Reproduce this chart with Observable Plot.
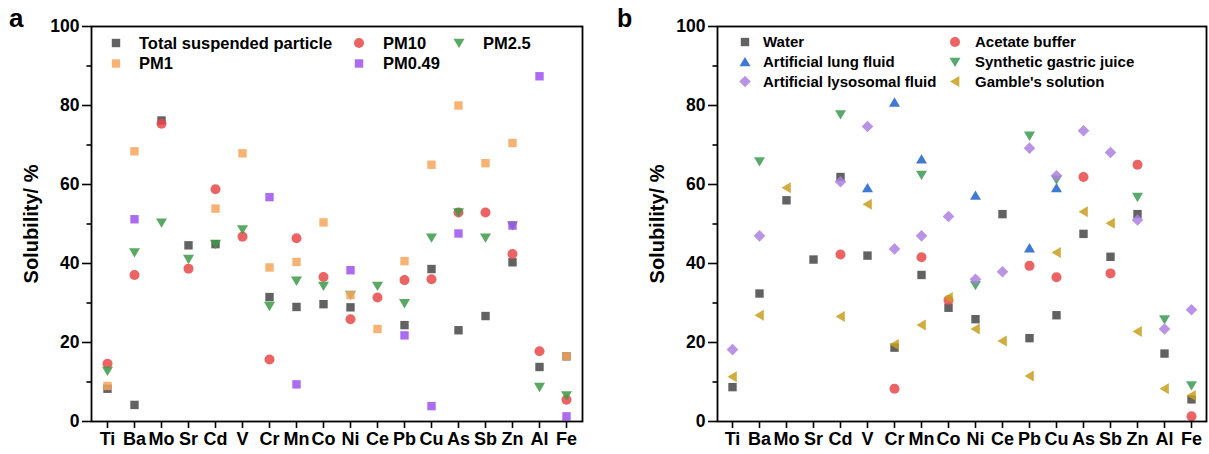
<!DOCTYPE html>
<html><head><meta charset="utf-8">
<script src="https://cdn.jsdelivr.net/npm/d3@7"></script>
<script src="https://cdn.jsdelivr.net/npm/@observablehq/plot@0.6"></script>
<style>
body{margin:0;background:#fff;}
#wrap{position:relative;width:1209px;height:454px;overflow:hidden;font-family:"Liberation Sans",Arial,sans-serif;}
#wrap svg{position:absolute;top:0;}
#wrap svg text{font-weight:bold;}
</style></head><body><div id="wrap"></div>
<script>
const elements = ["Ti","Ba","Mo","Sr","Cd","V","Cr","Mn","Co","Ni","Ce","Pb","Cu","As","Sb","Zn","Al","Fe"];
const yTicks = [0,20,40,60,80,100];
const yMinor = [10,30,50,70,90];

// Panel a
const tsp   = [8.3, 4.2, 76.2, 44.6, 44.9, null, 31.5, 29.0, 29.7, 28.9, null, 24.4, 38.6, 23.1, 26.7, 40.3, 13.8, 16.5];
const pm10  = [14.6, 37.1, 75.4, 38.7, 58.8, 46.8, 15.7, 46.4, 36.6, 25.9, 31.4, 35.8, 36.0, 52.9, 52.9, 42.4, 17.8, 5.5];
const pm25  = [12.8, 42.8, 50.3, 41.1, 44.9, 48.6, 29.2, 35.6, 34.3, 32.0, 34.3, 29.9, 46.5, 52.9, 46.5, 49.6, 8.7, 6.6];
const pm1   = [9.0, 68.4, null, null, 53.9, 67.9, 39.0, 40.4, 50.4, 32.0, 23.4, 40.6, 65.0, 80.0, 65.4, 70.5, null, 16.5];
const pm049 = [null, 51.2, null, null, null, null, 56.8, 9.4, null, 38.3, null, 21.8, 3.9, 47.6, null, 49.6, 87.4, 1.3];

// Panel b
const water     = [8.7, 32.4, 56.0, 41.0, 61.9, 42.0, 18.7, 37.1, 28.8, 25.9, 52.5, 21.1, 26.9, 47.5, 41.7, 52.5, 17.2, 5.6];
const acetate   = [null, null, null, null, 42.3, null, 8.3, 41.6, 30.7, null, null, 39.4, 36.5, 61.9, 37.5, 65.0, null, 1.3];
const lung      = [null, null, null, null, null, 59.1, 80.8, 66.4, null, 57.2, null, 43.9, 59.1, null, null, null, null, null];
const gastric   = [null, 65.8, null, null, 77.7, null, null, 62.4, null, 34.5, null, 72.3, 61.2, null, null, 56.8, 25.8, 9.1];
const lysosomal = [18.2, 47.0, null, null, 60.7, 74.7, 43.7, 47.0, 51.9, 36.0, 37.9, 69.2, 62.2, 73.6, 68.1, 51.0, 23.4, 28.3];
const gamble    = [11.3, 26.9, 59.2, null, 26.6, 55.0, 19.5, 24.4, 31.4, 23.4, 20.4, 11.5, 42.8, 53.1, 50.2, 22.8, 8.3, 6.6];

const sym = {
  square:  {draw(c){ c.rect(-4.2,-4.2,8.4,8.4); }},
  circle:  {draw(c){ c.moveTo(5,0); c.arc(0,0,5,0,2*Math.PI); }},
  triDown: {draw(c){ c.moveTo(-5.5,-4.3); c.lineTo(5.5,-4.3); c.lineTo(0,5); c.closePath(); }},
  triUp:   {draw(c){ c.moveTo(-5.5,4.3); c.lineTo(5.5,4.3); c.lineTo(0,-5); c.closePath(); }},
  triLeft: {draw(c){ c.moveTo(4.3,-5.5); c.lineTo(4.3,5.5); c.lineTo(-5,0); c.closePath(); }},
  diamond: {draw(c){ c.moveTo(0,-5.8); c.lineTo(5.8,0); c.lineTo(0,5.8); c.lineTo(-5.8,0); c.closePath(); }}
};

const seriesA = [
  {name:"Total suspended particle", values:tsp, symbol:sym.square, color:"#474747"},
  {name:"PM10", values:pm10, symbol:sym.circle, color:"#e84848"},
  {name:"PM2.5", values:pm25, symbol:sym.triDown, color:"#3c9a46"},
  {name:"PM1", values:pm1, symbol:sym.square, color:"#f6a65a"},
  {name:"PM0.49", values:pm049, symbol:sym.square, color:"#9c52ee"}
];
const seriesB = [
  {name:"Water", values:water, symbol:sym.square, color:"#474747"},
  {name:"Acetate buffer", values:acetate, symbol:sym.circle, color:"#e84848"},
  {name:"Artificial lung fluid", values:lung, symbol:sym.triUp, color:"#1f62cc"},
  {name:"Synthetic gastric juice", values:gastric, symbol:sym.triDown, color:"#3c9a56"},
  {name:"Artificial lysosomal fluid", values:lysosomal, symbol:sym.diamond, color:"#ad80e2"},
  {name:"Gamble's solution", values:gamble, symbol:sym.triLeft, color:"#c99e1c"}
];

const toData = arr => elements.map((el,i)=>({el, v:arr[i]})).filter(d=>d.v!=null);

function panel(series, width, ml, mr){
  return Plot.plot({
    width, height:454, marginLeft:ml, marginRight:mr, marginTop:26, marginBottom:33,
    style:{fontFamily:'"Liberation Sans", Arial, sans-serif', color:"#000", background:"transparent", overflow:"visible"},
    x:{type:"point", domain:elements, padding:0.5},
    y:{domain:[0,100]},
    marks:[
      Plot.axisY({ticks:yTicks, tickSize:9, tickPadding:3, fontSize:17.5, fontWeight:"bold", label:null, strokeWidth:1.6}),
      Plot.axisY({ticks:yMinor, tickSize:4.5, text:null, label:null, strokeWidth:1.6}),
      Plot.axisX({tickSize:7, tickPadding:4, fontSize:18, fontWeight:"bold", label:null, strokeWidth:1.6}),
      ...series.map(s => Plot.dot(toData(s.values), {x:"el", y:"v", symbol:s.symbol, r:5, fill:s.color, fillOpacity:0.85, stroke:"none"})),
      Plot.frame({stroke:"#000", strokeWidth:1.8})
    ]
  });
}

const wrap = document.getElementById("wrap");
const a = panel(seriesA, 600, 91, 18);
a.style.left = "0px";
wrap.appendChild(a);
const b = panel(seriesB, 609, 117, 3);
b.style.left = "600px";
wrap.appendChild(b);

// overlay: panel letters, y labels, legends
const ov = d3.select(wrap).append("svg").attr("width",1209).attr("height",454)
  .style("left","0px").style("pointer-events","none")
  .attr("font-family",'"Liberation Sans", Arial, sans-serif').attr("font-weight","bold");
ov.append("text").attr("x",9).attr("y",26.5).attr("font-size",26).text("a");
ov.append("text").attr("x",617).attr("y",26.5).attr("font-size",25).text("b");
[[38,224],[664,224]].forEach(([x,y])=>{
  ov.append("text").attr("transform",`translate(${x},${y}) rotate(-90)`).attr("text-anchor","middle")
    .attr("font-size",20).text("Solubility/ %");
});

function legend(series, layout, fs){
  series.forEach((s,i)=>{
    const [sx, tx, cy] = layout[i];
    ov.append("path").attr("transform",`translate(${sx},${cy})`).attr("d", d3.symbol(s.symbol)())
      .attr("fill", s.color).attr("fill-opacity",0.85);
    ov.append("text").attr("x",tx).attr("y",cy).attr("dy","0.36em").attr("font-size",fs).text(s.name);
  });
}
legend(seriesA, [[116,139,43],[359,383,43],[459,483,43],[116,139,63.5],[359,383,63.5]], 16.5);
legend(seriesB, [[745,763,42],[955,975,42],[745,763,62],[955,975,62],[745,763,81.5],[955,975,81.5]], 15);
</script></body></html>
